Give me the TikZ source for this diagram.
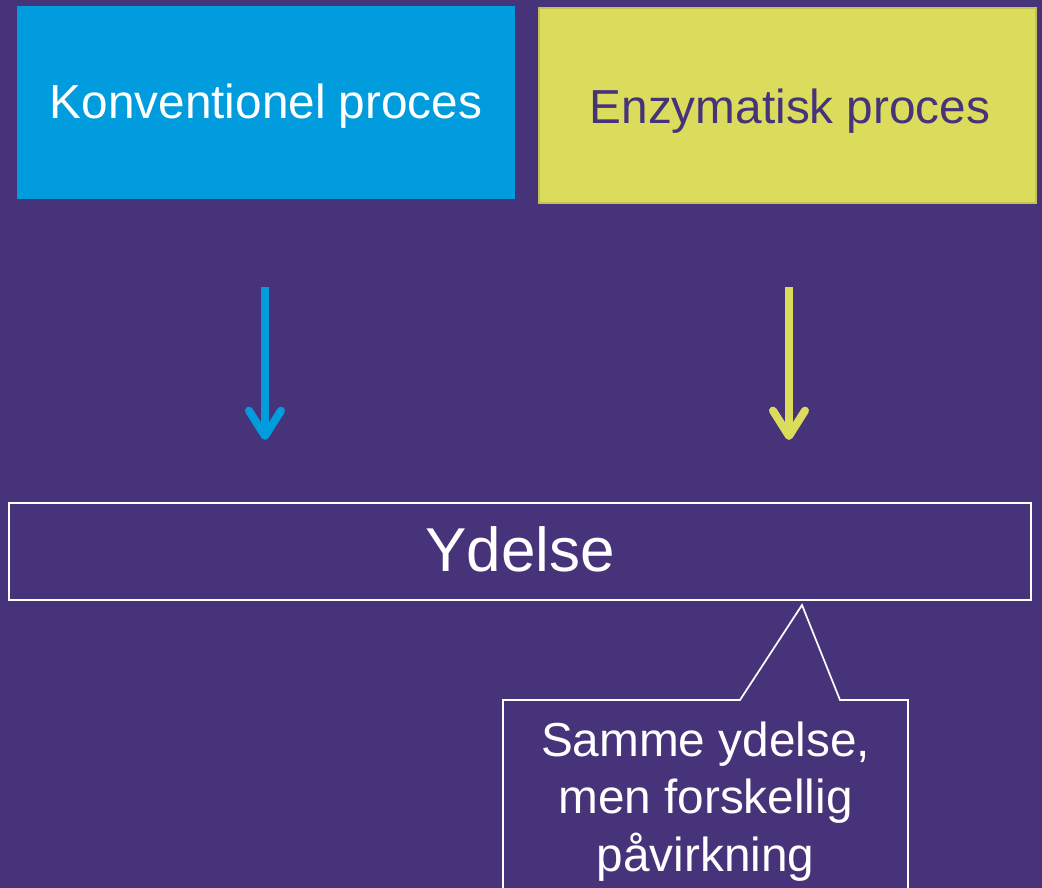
\documentclass[tikz,border=0pt]{standalone}
\usepackage{fontspec}
\setmainfont{Liberation Sans}
\usetikzlibrary{arrows.meta}
\definecolor{bgpurple}{HTML}{47337A}
\definecolor{cblue}{HTML}{009CDE}
\definecolor{cyellow}{HTML}{DCDC5C}
\definecolor{cyelline}{HTML}{C4C254}
\begin{document}
\begin{tikzpicture}[x=0.75pt,y=-0.75pt,
  topbox/.style={rectangle, inner sep=0pt, minimum width=373.5pt, minimum height=145pt},
  toptext/.style={anchor=base, inner sep=0pt, font=\fontsize{35.8}{43}\selectfont},
  flowarrow/.style={line width=6pt, -{Straight Barb[length=19pt,width=24pt,round]}}]
\path[fill=bgpurple] (0,0) rectangle (1042,888);
\useasboundingbox (0,0) rectangle (1042,888);
\clip (0,0) rectangle (1042,888);

% top boxes
\node[topbox, fill=cblue] (blue) at (265.5,102.5) {};
\node[topbox, fill=cyellow, draw=cyelline, line width=0.8pt, minimum width=372.75pt, minimum height=146.25pt] (yellow) at (787.5,105.5) {};
\node[toptext, text=white] (bluetext) at (266,119) {Konventionel proces};
\node[toptext, text=bgpurple] (yellowtext) at (790,124) {Enzymatisk proces};

% result box
\node[rectangle, draw=white, line width=1.5pt, inner sep=0pt, minimum width=766.5pt, minimum height=72.75pt] (ydelse) at (520,551.5) {};
\node[anchor=base, inner sep=0pt, text=white, font=\fontsize{46.5}{55}\selectfont] (ydelsetext) at (520,571) {Ydelse};

% arrows
\coordinate (b1) at (265,287);
\coordinate (b2) at (265,440);
\coordinate (y1) at (789,287);
\coordinate (y2) at (789,440);
\draw[flowarrow, cblue] (b1) -- (b2);
\draw[flowarrow, cyellow] (y1) -- (y2);

% callout
\coordinate (tip) at (802,605);
\draw[white, line width=1.3pt, line join=miter] (503,900) -- (503,700) -- (740,700) -- (tip) -- (840,700) -- (908,700) -- (908,900);
\node[anchor=base, inner sep=0pt, text=white, align=center, font=\fontsize{35.8}{43}\selectfont] (callout) at (705.5,871) {Samme ydelse,\\men forskellig\\påvirkning};
\end{tikzpicture}
\end{document}
